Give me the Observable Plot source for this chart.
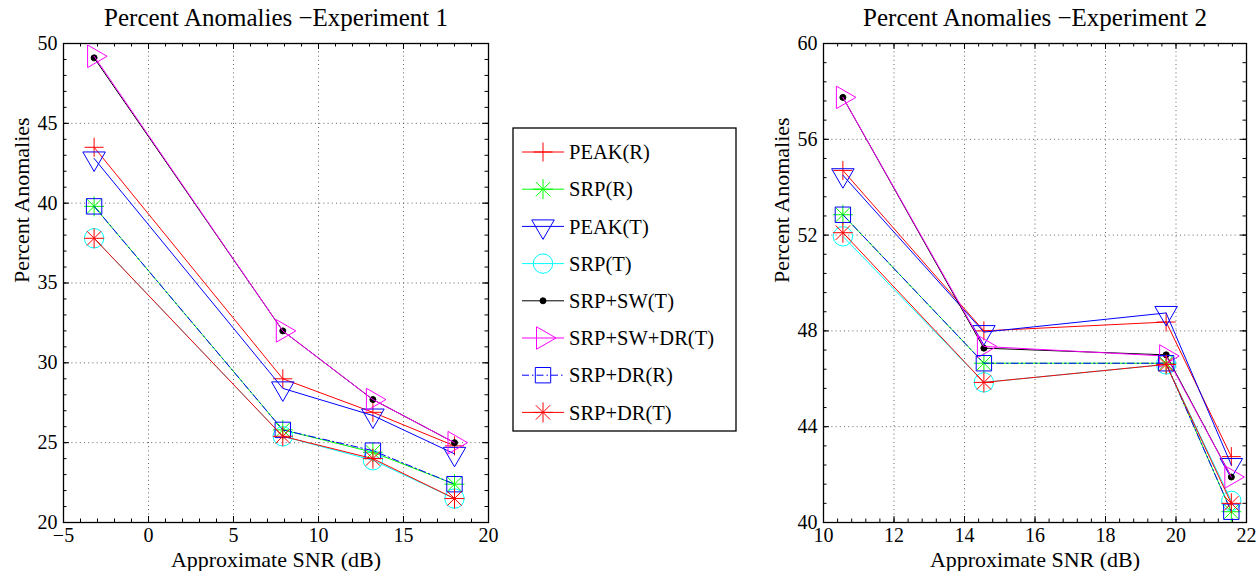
<!DOCTYPE html>
<html>
<head>
<meta charset="utf-8">
<script src="https://cdn.jsdelivr.net/npm/d3@7"></script>
<script src="https://cdn.jsdelivr.net/npm/@observablehq/plot@0.6"></script>
<style>
  html, body { margin: 0; padding: 0; background: #fff; }
  #root { position: relative; width: 1258px; height: 571px; overflow: hidden; font-family: "Liberation Serif", "Times New Roman", serif; }
  #root svg text { font-family: "Liberation Serif", "Times New Roman", serif; }
  .abs { position: absolute; top: 0; }
</style>
</head>
<body>
<div id="root"></div>
<script>
// ---------------- DATA ----------------
const seriesNames = ["PEAK(R)", "SRP(R)", "PEAK(T)", "SRP(T)", "SRP+SW(T)", "SRP+SW+DR(T)", "SRP+DR(R)", "SRP+DR(T)"];

// Experiment 1
const snr1 = [-3.2, 7.9, 13.2, 18.0];
const exp1PeakR    = [43.5, 29.0, 26.9, 24.8];
const exp1SrpR     = [39.8, 25.8, 24.4, 22.4];
const exp1PeakT    = [42.8, 28.4, 26.7, 24.3];
const exp1SrpT     = [37.8, 25.4, 23.9, 21.5];
const exp1SrpSwT   = [49.1, 32.0, 27.7, 25.0];
const exp1SrpSwDrT = [49.2, 32.0, 27.7, 25.0];
const exp1SrpDrR   = [39.8, 25.8, 24.5, 22.4];
const exp1SrpDrT   = [37.8, 25.4, 24.0, 21.5];

// Experiment 2
const snr2 = [10.55, 14.55, 19.72, 21.57];
const exp2PeakR    = [54.7, 48.0, 48.37, 42.75];
const exp2SrpR     = [52.85, 46.65, 46.65, 40.45];
const exp2PeakT    = [54.5, 47.95, 48.75, 42.4];
const exp2SrpT     = [51.95, 45.85, 46.6, 40.9];
const exp2SrpSwT   = [57.75, 47.28, 47.0, 41.9];
const exp2SrpSwDrT = [57.75, 47.35, 46.95, 41.9];
const exp2SrpDrR   = [52.85, 46.65, 46.65, 40.45];
const exp2SrpDrT   = [52.1, 45.85, 46.6, 40.8];

// Axis ticks
const x1Ticks = [-5, 0, 5, 10, 15, 20];
const y1Ticks = [20, 25, 30, 35, 40, 45, 50];
const x2Ticks = [10, 12, 14, 16, 18, 20, 22];
const y2Ticks = [40, 44, 48, 52, 56, 60];

const titles = ["Percent Anomalies \u2212Experiment 1", "Percent Anomalies \u2212Experiment 2"];
const xLabel = "Approximate SNR (dB)";
const yLabel = "Percent Anomalies";

// ---------------- STYLES ----------------
function rad(s) { return Math.sqrt(s / Math.PI); }
const symbols = {
  plus: { draw(c, s) { const r = rad(s); c.moveTo(-r, 0); c.lineTo(r, 0); c.moveTo(0, -r); c.lineTo(0, r); } },
  star: { draw(c, s) { const r = rad(s), d = r * 0.72;
    c.moveTo(-r, 0); c.lineTo(r, 0); c.moveTo(0, -r); c.lineTo(0, r);
    c.moveTo(-d, -d); c.lineTo(d, d); c.moveTo(-d, d); c.lineTo(d, -d); } },
  triDown: { draw(c, s) { const R = rad(s), h = R * Math.sqrt(3) / 2;
    c.moveTo(0, R); c.lineTo(-h, -R / 2); c.lineTo(h, -R / 2); c.closePath(); } },
  triRight: { draw(c, s) { const R = rad(s), h = R * Math.sqrt(3) / 2;
    c.moveTo(R, 0); c.lineTo(-R / 2, -h); c.lineTo(-R / 2, h); c.closePath(); } },
  circle: { draw(c, s) { const r = rad(s); c.moveTo(r, 0); c.arc(0, 0, r, 0, 2 * Math.PI); } },
  square: { draw(c, s) { const r = rad(s); c.rect(-r, -r, 2 * r, 2 * r); } },
  point: { draw(c, s) { const r = rad(s); c.moveTo(r, 0); c.arc(0, 0, r, 0, 2 * Math.PI); } }
};
const styles = {
  "PEAK(R)":      { color: "#ff0000", symbol: "plus",     r: 9.5, fill: "none" },
  "SRP(R)":       { color: "#00ff00", symbol: "star",     r: 10,  fill: "none" },
  "PEAK(T)":      { color: "#0000ff", symbol: "triDown",  r: 13,  fill: "none" },
  "SRP(T)":       { color: "#00ffff", symbol: "circle",   r: 9.7, fill: "none" },
  "SRP+SW(T)":    { color: "#000000", symbol: "point",    r: 3,   fill: "#000000" },
  "SRP+SW+DR(T)": { color: "#ff00ff", symbol: "triRight", r: 13,  fill: "none" },
  "SRP+DR(R)":    { color: "#0000ff", symbol: "square",   r: 7.7, fill: "none", dash: "7,3,1.5,3" },
  "SRP+DR(T)":    { color: "#ff0000", symbol: "star",     r: 10,  fill: "none" }
};

function rows(xs, arrays) {
  const out = [];
  seriesNames.forEach((name, i) => xs.forEach((x, j) => out.push({ series: name, x, y: arrays[i][j] })));
  return out;
}
const data1 = rows(snr1, [exp1PeakR, exp1SrpR, exp1PeakT, exp1SrpT, exp1SrpSwT, exp1SrpSwDrT, exp1SrpDrR, exp1SrpDrT]);
const data2 = rows(snr2, [exp2PeakR, exp2SrpR, exp2PeakT, exp2SrpT, exp2SrpSwT, exp2SrpSwDrT, exp2SrpDrR, exp2SrpDrT]);

function range(a, b, step) { const out = []; const n = Math.round((b - a) / step); for (let i = 0; i <= n; i++) out.push(+(a + i * step).toFixed(6)); return out; }

const FONT = '"Liberation Serif", "Times New Roman", serif';
const H = 571, MT = 43, MB = 49;

function chart({ data, xTicks, yTicks, xMinorStep, yMinorStep, width, ml, mr, title }) {
  const pw = width - ml - mr, ph = H - MT - MB;
  const xd = [xTicks[0], xTicks[xTicks.length - 1]], yd = [yTicks[0], yTicks[yTicks.length - 1]];
  const xMinor = range(xd[0], xd[1], xMinorStep), yMinor = range(yd[0], yd[1], yMinorStep);
  const marks = [
    Plot.gridX(xTicks.slice(1, -1), { stroke: "#333", strokeOpacity: 0.75, strokeDasharray: "1,3.2" }),
    Plot.gridY(yTicks.slice(1, -1), { stroke: "#333", strokeOpacity: 0.75, strokeDasharray: "1,3.2" }),
    // minor ticks
    Plot.tickX(xMinor, { x: d => d, insetTop: ph - 3.5, stroke: "#000" }),
    Plot.tickX(xMinor, { x: d => d, insetBottom: ph - 3.5, stroke: "#000" }),
    Plot.tickY(yMinor, { y: d => d, insetRight: pw - 3.5, stroke: "#000" }),
    Plot.tickY(yMinor, { y: d => d, insetLeft: pw - 3.5, stroke: "#000" }),
    // major ticks
    Plot.tickX(xTicks, { x: d => d, insetTop: ph - 6, stroke: "#000" }),
    Plot.tickX(xTicks, { x: d => d, insetBottom: ph - 6, stroke: "#000" }),
    Plot.tickY(yTicks, { y: d => d, insetRight: pw - 6, stroke: "#000" }),
    Plot.tickY(yTicks, { y: d => d, insetLeft: pw - 6, stroke: "#000" })
  ];
  for (const name of seriesNames) {
    const st = styles[name];
    const d = data.filter(r => r.series === name);
    marks.push(Plot.line(d, { x: "x", y: "y", stroke: st.color, strokeWidth: 1, strokeDasharray: st.dash || null }));
    marks.push(Plot.dot(d, { x: "x", y: "y", r: st.r, symbol: symbols[st.symbol], stroke: st.color, fill: st.fill, strokeWidth: 1 }));
  }
  marks.push(
    Plot.frame({ stroke: "#000", strokeWidth: 1.3 }),
    Plot.axisX(xTicks, { tickSize: 0, tickPadding: 5, fontSize: 20, label: null }),
    Plot.axisY(yTicks, { tickSize: 0, tickPadding: 6, fontSize: 20, label: null }),
    Plot.text([title], { text: d => d, frameAnchor: "top", dy: -26, fontSize: 25, lineAnchor: "middle" }),
    Plot.text([xLabel], { text: d => d, frameAnchor: "bottom", dy: 37, fontSize: 22, lineAnchor: "middle" }),
    Plot.text([yLabel], { text: d => d, frameAnchor: "left", dx: -42, rotate: -90, fontSize: 22, lineAnchor: "middle" })
  );
  return Plot.plot({
    width, height: H,
    marginLeft: ml, marginRight: mr, marginTop: MT, marginBottom: MB,
    x: { domain: xd, axis: null },
    y: { domain: yd, axis: null },
    style: { fontFamily: FONT, fontSize: "20px", color: "#000", background: "transparent", overflow: "visible" },
    marks
  });
}

const root = document.getElementById("root");
const c1 = chart({ data: data1, xTicks: x1Ticks, yTicks: y1Ticks, xMinorStep: 1, yMinorStep: 1, width: 500, ml: 63, mr: 12, title: titles[0] });
c1.classList.add("abs"); c1.style.left = "0px";
root.appendChild(c1);
const c2 = chart({ data: data2, xTicks: x2Ticks, yTicks: y2Ticks, xMinorStep: 0.4, yMinorStep: 0.8, width: 518, ml: 83, mr: 12, title: titles[1] });
c2.classList.add("abs"); c2.style.left = "740px";
root.appendChild(c2);

// ---------------- LEGEND ----------------
const lg = d3.create("svg").attr("width", 226).attr("height", 306)
  .style("position", "absolute").style("left", "512px").style("top", "127px");
lg.append("rect").attr("x", 1).attr("y", 1).attr("width", 223).attr("height", 303)
  .attr("fill", "#fff").attr("stroke", "#000").attr("stroke-width", 1.3);
seriesNames.forEach((name, i) => {
  const st = styles[name];
  const y = 25 + i * 37.2;
  const g = lg.append("g");
  g.append("line").attr("x1", 10).attr("x2", 52).attr("y1", y).attr("y2", y)
    .attr("stroke", st.color).attr("stroke-width", 1).attr("stroke-dasharray", st.dash || null);
  g.append("path").attr("transform", `translate(31,${y})`)
    .attr("d", d3.symbol(symbols[st.symbol], st.r * st.r * Math.PI)())
    .attr("fill", st.fill).attr("stroke", st.color).attr("stroke-width", 1);
  g.append("text").attr("x", 57).attr("y", y).attr("dy", "0.35em")
    .style("font-family", FONT).attr("font-size", 20.5).text(name);
});
root.appendChild(lg.node());
</script>
</body>
</html>
